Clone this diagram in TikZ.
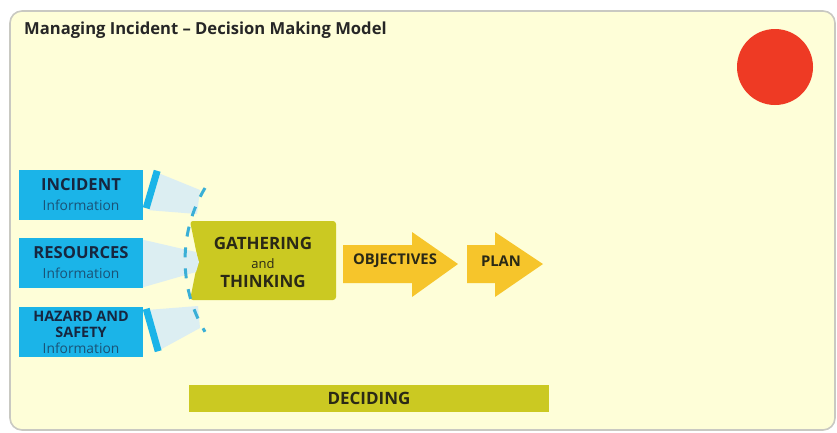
\documentclass[tikz,border=0pt]{standalone}
\usepackage{fontspec}
\setmainfont{Open Sans}
\usetikzlibrary{calc}
\definecolor{bg}{HTML}{FEFED8}
\definecolor{framec}{HTML}{C9C9C2}
\definecolor{cyanbox}{HTML}{1BB4E8}
\definecolor{navy}{HTML}{17263F}
\definecolor{infoblue}{HTML}{1A5276}
\definecolor{pale}{HTML}{DCEEF2}
\definecolor{dashblue}{HTML}{3AAFD6}
\definecolor{olive}{HTML}{CBC922}
\definecolor{gold}{HTML}{F6C52B}
\definecolor{darktext}{HTML}{2A2916}
\definecolor{redc}{HTML}{EE3A24}
\begin{document}
\begin{tikzpicture}[x=1pt,y=-1pt,
  infobox/.style={fill=cyanbox, minimum width=124pt, minimum height=50pt, inner sep=0pt, align=center, text=navy},
  funnel/.style={fill=pale},
  bar/.style={draw=cyanbox, line width=7pt},
  arrowshape/.style={fill=gold},
  arrowtext/.style={font=\fontsize{14.8}{15}\selectfont\bfseries, text=darktext}
]
\useasboundingbox (0,0) rectangle (837,432);
\fill[white] (0,0) rectangle (837,432);
\draw[framec, line width=1.6pt, fill=bg, rounded corners=12pt] (10,11) rectangle (835,430);

\node[anchor=base west, font=\fontsize{16.6}{19}\selectfont\bfseries, text=black!85, inner sep=0pt] (title) at (24,34) {Managing Incident – Decision Making Model};

\node[circle, fill=redc, minimum size=76pt, inner sep=0pt] (dot) at (775,67) {};

% info boxes
\node[infobox, font=\fontsize{13.8}{20}\selectfont] (inc) at (81,195)
  {{\fontsize{16.6}{17}\selectfont\bfseries INCIDENT}\\{\color{infoblue}Information}};
\node[infobox, font=\fontsize{13.8}{20}\selectfont] (res) at (81,263)
  {{\fontsize{16.6}{17}\selectfont\bfseries RESOURCES}\\{\color{infoblue}Information}};
\node[infobox, font=\fontsize{13.8}{16}\selectfont] (haz) at (81,332)
  {{\bfseries\fontsize{14.4}{15}\selectfont HAZARD AND}\\{\bfseries\fontsize{14.4}{15}\selectfont SAFETY}\\{\color{infoblue}Information}};

% gathering shape
\coordinate (gtl) at (190,221);
\coordinate (gbr) at (336,300);
\fill[olive, rounded corners=3pt] (gtl) -- (gbr |- gtl) -- (gbr) -- (gtl |- gbr) -- (198,260) -- cycle;
\node[align=center, text=darktext, font=\fontsize{13}{20}\selectfont, inner sep=0pt] (gath) at (263,262)
  {{\fontsize{17}{18}\selectfont\bfseries GATHERING}\\[-1pt]and\\[-1pt]{\fontsize{17}{18}\selectfont\bfseries THINKING}};

% funnels
\coordinate (fin) at (199,201);
\coordinate (fres) at (199,262);
\coordinate (fhaz) at (199,318);
\fill[funnel] ($(inc.north east)+(17,4)$) -- ($(fin)+(1,-11)$) -- ($(fin)+(-2,13)$) -- ($(inc.south east)+(6,-10)$) -- cycle;
\fill[funnel] ($(res.north east)+(0,2)$) -- ($(fres)+(-3,-10)$) -- (fres) -- ($(fres)+(-3,10)$) -- ($(res.south east)+(0,-1)$) -- cycle;
\fill[funnel] ($(haz.north east)+(6,3)$) -- ($(fhaz)+(-1,-12)$) -- ($(fhaz)+(1,10)$) -- ($(haz.south east)+(18,-8)$) -- cycle;
\draw[bar] ($(inc.north east)+(14,1)$) -- ($(inc.south east)+(3,-12)$);
\draw[bar] ($(haz.north east)+(3,2)$) -- ($(haz.south east)+(15,-6)$);

% dashed arc
\coordinate (arcstart) at (205,188);
\draw[dashblue, line width=3pt, dash pattern=on 10pt off 11pt] (arcstart) arc[start angle=211, end angle=149, radius=139.6];

% arrows
\coordinate (oa) at (343,264);
\fill[arrowshape] (oa) ++(0,-19) -- ++(69,0) -- ++(0,-13) -- (458,264) -- (412,297) -- ++(0,-14) -- ++(-69,0) -- cycle;
\node[arrowtext] (obj) at (395,261) {OBJECTIVES};
\coordinate (pa) at (467,264);
\fill[arrowshape] (pa) ++(0,-19) -- ++(28,0) -- ++(0,-13) -- (543,264) -- (495,297) -- ++(0,-14) -- ++(-28,0) -- cycle;
\node[arrowtext] (plan) at (501,261) {PLAN};

% deciding bar
\node[fill=olive, minimum width=360pt, minimum height=27pt, inner sep=0pt, text=darktext, font=\fontsize{17}{18}\selectfont\bfseries] (dec) at (369,398.5) {DECIDING};
\end{tikzpicture}
\end{document}
